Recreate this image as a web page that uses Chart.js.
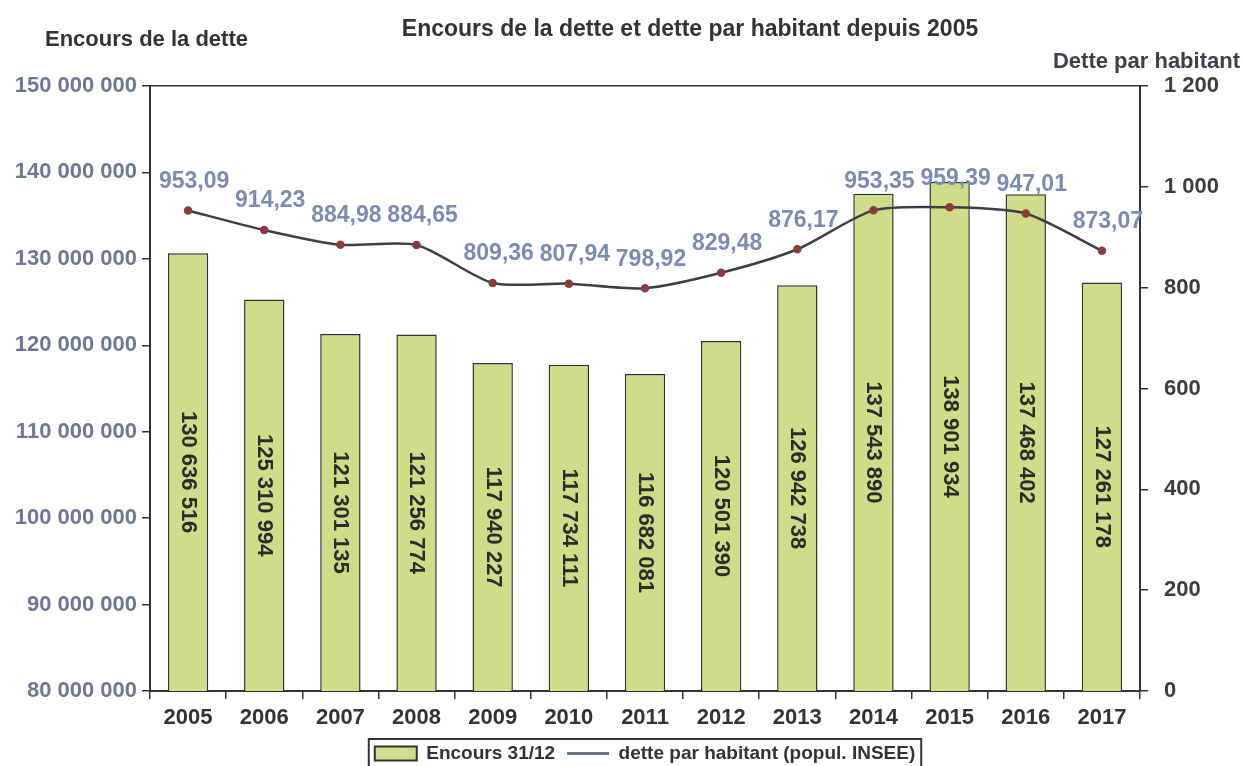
<!DOCTYPE html>
<html>
<head>
<meta charset="utf-8">
<script src="https://cdn.jsdelivr.net/npm/chart.js@4/dist/chart.umd.min.js"></script>
<style>
    html, body { margin: 0; padding: 0; background: #fff; }
    #wrap { width: 1243px; height: 766px; overflow: hidden; }
</style>
</head>
<body>
<div id="wrap"><canvas id="chart" width="1243" height="766"></canvas></div>
<script>
const years = ['2005', '2006', '2007', '2008', '2009', '2010', '2011', '2012', '2013', '2014', '2015', '2016', '2017'];
const encours = [130636516, 125310994, 121301135, 121256774, 117940227, 117734111, 116682081, 120501390, 126942738, 137543890, 138901934, 137468402, 127261178];
const detteParHabitant = [953.09, 914.23, 884.98, 884.65, 809.36, 807.94, 798.92, 829.48, 876.17, 953.35, 959.39, 947.01, 873.07];
const seriesNames = ['Encours 31/12', 'dette par habitant (popul. INSEE)'];
const chartTitle = 'Encours de la dette et dette par habitant depuis 2005';
const leftAxisTitle = 'Encours de la dette';
const rightAxisTitle = 'Dette par habitant';

const FONT = '"Liberation Sans", Arial, sans-serif';
const ctx = document.querySelector('#chart').getContext('2d');

const spaced = n => String(Math.round(n)).replace(/\B(?=(\d{3})+(?!\d))/g, ' ');
const decimal = v => v.toFixed(2).replace('.', ',');

// titles drawn above the plot, labels inside bars and above the points, frame round the legend
const extras = {
    id: 'extras',
    afterDraw(chart) {
        const c = chart.ctx;
        c.save();
        c.textBaseline = 'middle';
        c.font = `bold 23px ${FONT}`;
        c.fillStyle = '#333';
        c.textAlign = 'center';
        c.fillText(chartTitle, 690, 30);
        c.font = `bold 22px ${FONT}`;
        c.textAlign = 'left';
        c.fillText(leftAxisTitle, 45, 40);
        c.fillStyle = '#3b414d';
        c.textAlign = 'right';
        c.fillText(rightAxisTitle, 1240, 62);

        // rotated values in the bars
        const bars = chart.getDatasetMeta(1).data;
        const bottom = chart.chartArea.bottom;
        c.font = `bold 22px ${FONT}`;
        c.fillStyle = '#2b2b2b';
        c.textAlign = 'center';
        bars.forEach((bar, i) => {
            const cy = (bar.y + Math.min(bar.base, bottom)) / 2;
            c.save();
            c.translate(bar.x, cy);
            c.rotate(Math.PI / 2);
            c.fillText(spaced(encours[i]), 0, 0);
            c.restore();
        });

        // values above the line points
        const points = chart.getDatasetMeta(0).data;
        c.font = `bold 23px ${FONT}`;
        c.fillStyle = '#7b8cb4';
        points.forEach((p, i) => {
            c.fillText(decimal(detteParHabitant[i]), p.x + 6, p.y - 29);
        });

        // legend frame
        const boxes = chart.legend.legendHitBoxes;
        if (boxes && boxes.length) {
            const left = Math.min(...boxes.map(b => b.left)) - 6;
            const right = Math.max(...boxes.map(b => b.left + b.width)) + 6;
            const top = Math.min(...boxes.map(b => b.top)) - 5;
            const bot = Math.max(...boxes.map(b => b.top + b.height)) + 5;
            c.strokeStyle = '#333';
            c.lineWidth = 2;
            c.strokeRect(left, top, right - left, bot - top);
        }
        c.restore();
    }
};

new Chart(ctx, {
    data: {
        labels: years,
        datasets: [{
            type: 'line',
            label: seriesNames[1],
            data: detteParHabitant,
            yAxisID: 'y1',
            order: 0,
            borderColor: '#3a3f4a',
            borderWidth: 2.5,
            tension: 0.25,
            pointRadius: 3,
            pointBackgroundColor: '#8a3b3b',
            pointBorderColor: '#8a3b3b',
            backgroundColor: '#3a3f4a'
        }, {
            type: 'bar',
            label: seriesNames[0],
            data: encours,
            yAxisID: 'y',
            order: 1,
            backgroundColor: '#cfdc88',
            borderColor: '#333',
            borderWidth: 1.5,
            barPercentage: 0.53,
            categoryPercentage: 1
        }]
    },
    options: {
        responsive: false,
        maintainAspectRatio: false,
        animation: false,
        layout: { padding: { top: 86, right: 0, left: 0, bottom: -7 } },
        plugins: {
            title: { display: false },
            tooltip: { enabled: false },
            legend: {
                position: 'bottom',
                fullSize: false,
                reverse: true,
                labels: {
                    usePointStyle: true,
                    pointStyleWidth: 42,
                    boxHeight: 14,
                    padding: 12,
                    color: '#333',
                    font: { family: FONT, size: 19, weight: 'bold' },
                    generateLabels(chart) {
                        const items = Chart.defaults.plugins.legend.labels.generateLabels(chart);
                        return items.map(item => Object.assign(item, {
                            pointStyle: item.datasetIndex === 1 ? 'rect' : 'line',
                            lineWidth: item.datasetIndex === 1 ? 2 : 3,
                            strokeStyle: item.datasetIndex === 1 ? '#333' : '#6a7590'
                        }));
                    }
                }
            }
        },
        scales: {
            x: {
                offset: true,
                grid: { display: true, drawOnChartArea: false, offset: true, tickLength: 8, tickColor: '#333', lineWidth: 1.5 },
                border: { display: true, color: '#333', width: 2 },
                ticks: { color: '#333', padding: 6, font: { family: FONT, size: 22, weight: 'bold' } },
                afterFit: scale => { scale.height = 41; }
            },
            y: {
                position: 'left',
                min: 80000000,
                max: 150000000,
                grid: {
                    drawOnChartArea: true,
                    color: c => c.tick && c.tick.value === 150000000 ? '#333' : 'rgba(0,0,0,0)',
                    tickColor: '#333',
                    tickLength: 8,
                    lineWidth: 1.5
                },
                border: { display: true, color: '#333', width: 2 },
                ticks: {
                    stepSize: 10000000,
                    color: '#6b7896',
                    padding: 5,
                    font: { family: FONT, size: 22, weight: 'bold' },
                    callback: v => spaced(v)
                },
                afterFit: scale => { scale.width = 150; }
            },
            y1: {
                position: 'right',
                min: 0,
                max: 1200,
                grid: { drawOnChartArea: false, tickColor: '#333', tickLength: 8, lineWidth: 1.5 },
                border: { display: true, color: '#333', width: 2 },
                ticks: {
                    stepSize: 200,
                    color: '#3d3d3d',
                    padding: 16,
                    font: { family: FONT, size: 22, weight: 'bold' },
                    callback: v => spaced(v)
                },
                afterFit: scale => { scale.width = 103; }
            }
        }
    },
    plugins: [extras]
});
</script>
</body>
</html>
